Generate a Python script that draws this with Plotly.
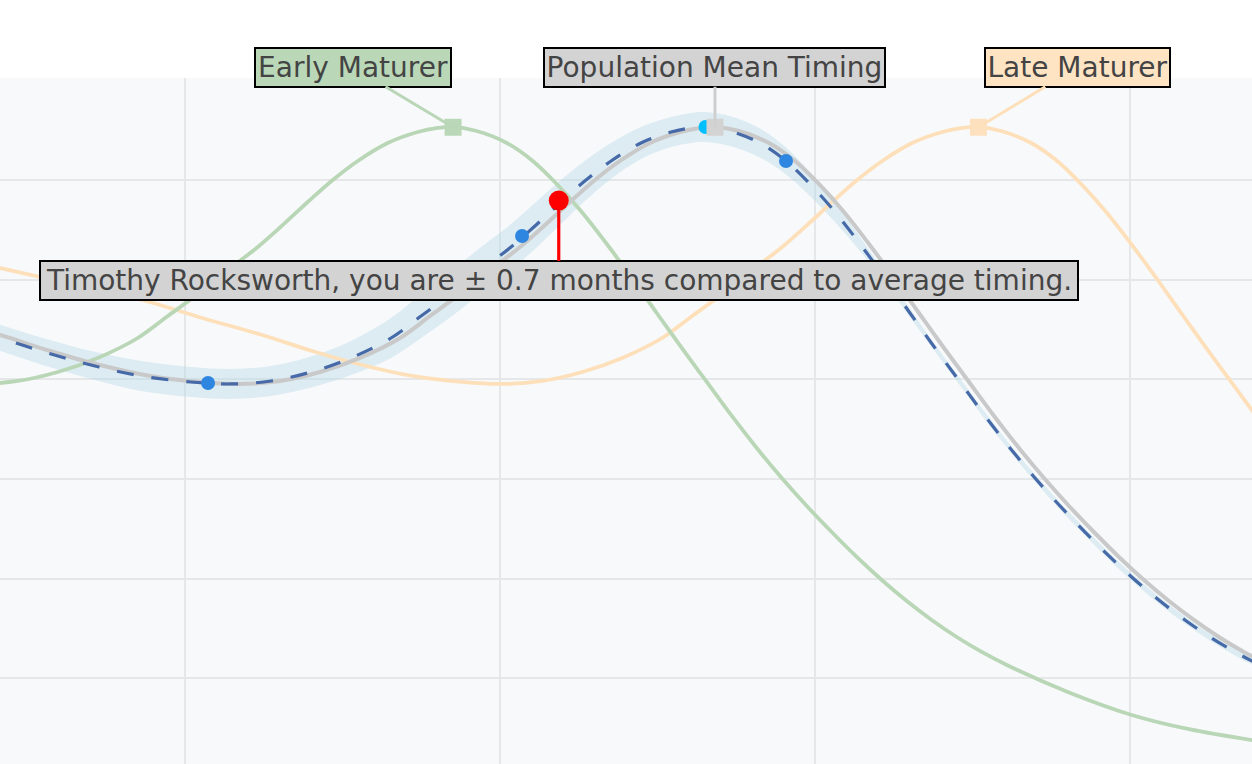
import plotly.graph_objects as go

# ---------------- data (age in years, growth velocity) ----------------
velocity = [8.157, 7.977, 7.796, 7.616, 7.445, 7.285, 7.144, 7.034, 6.974, 6.954,
            6.984, 7.074, 7.215, 7.415, 7.636, 7.857, 8.097, 8.328, 8.549, 8.779,
            9.000, 9.191, 9.371, 9.481, 9.522, 9.532, 9.491, 9.371, 9.191, 8.960,
            8.679, 8.358, 8.017, 7.666, 7.315, 6.974, 6.633, 6.312, 6.011, 5.730,
            5.469, 5.219, 4.988, 4.777, 4.587, 4.416, 4.266, 4.135, 3.865, 3.634,
            3.494, 3.373]

mean_age = [7.048, 7.556, 8.063, 8.444, 8.825, 9.143, 9.460, 9.778, 10.095, 10.349,
            10.603, 10.857, 11.111, 11.365, 11.556, 11.746, 11.937, 12.127, 12.286, 12.444,
            12.603, 12.762, 12.952, 13.143, 13.270, 13.359, 13.517, 13.708, 13.873, 14.025,
            14.184, 14.343, 14.502, 14.660, 14.819, 14.978, 15.137, 15.295, 15.454, 15.613,
            15.771, 15.930, 16.089, 16.248, 16.406, 16.565, 16.724, 16.883, 17.270, 17.676,
            18.032, 18.476]

individual_age = [6.991, 7.499, 8.006, 8.387, 8.768, 9.086, 9.403, 9.721, 10.038, 10.292,
                  10.546, 10.800, 11.054, 11.308, 11.499, 11.689, 11.880, 12.070, 12.229, 12.387,
                  12.546, 12.705, 12.895, 13.086, 13.213, 13.302, 13.460, 13.651, 13.816, 13.968,
                  14.127, 14.286, 14.445, 14.603, 14.762, 14.921, 15.080, 15.238, 15.397, 15.556,
                  15.714, 15.873, 16.032, 16.191, 16.349, 16.508, 16.667, 16.826, 17.213, 17.619,
                  17.975, 18.419]

early_age = [5.383, 5.891, 6.398, 6.779, 7.160, 7.478, 7.795, 8.113, 8.430, 8.684,
             8.938, 9.192, 9.446, 9.700, 9.891, 10.081, 10.272, 10.462, 10.621, 10.779,
             10.938, 11.097, 11.287, 11.478, 11.605, 11.694, 11.852, 12.043, 12.208, 12.360,
             12.519, 12.678, 12.837, 12.995, 13.154, 13.313, 13.472, 13.630, 13.789, 13.948,
             14.106, 14.265, 14.424, 14.583, 14.741, 14.900, 15.059, 15.218, 15.605, 16.011,
             16.367, 16.811]

late_age = [8.713, 9.221, 9.728, 10.109, 10.490, 10.808, 11.125, 11.443, 11.760, 12.014,
            12.268, 12.522, 12.776, 13.030, 13.221, 13.411, 13.602, 13.792, 13.951, 14.109,
            14.268, 14.427, 14.617, 14.808, 14.935, 15.024, 15.182, 15.373, 15.538, 15.690,
            15.849, 16.008, 16.167, 16.325, 16.484, 16.643, 16.802, 16.960, 17.119, 17.278,
            17.436, 17.595, 17.754, 17.913, 18.071, 18.230, 18.389, 18.548, 18.935, 19.341,
            19.697, 20.141]

band_halfwidth = [0.13, 0.13, 0.13, 0.13, 0.13, 0.135, 0.14, 0.15, 0.15, 0.15,
                  0.15, 0.155, 0.17, 0.20, 0.22, 0.23, 0.23, 0.23, 0.23, 0.22,
                  0.20, 0.18, 0.16, 0.15, 0.15, 0.15, 0.15, 0.145, 0.135, 0.12,
                  0.10, 0.07, 0.05, 0.04, 0.035, 0.035, 0.035, 0.035, 0.035, 0.035,
                  0.035, 0.035, 0.035, 0.035, 0.035, 0.035, 0.035, 0.035, 0.035, 0.035,
                  0.035, 0.035]

checkpoint_age = [10.146, 12.140, 13.816]
checkpoint_vel = [6.964, 8.438, 9.190]

individual_peak_age = [13.305]
individual_peak_vel = [9.532]

current_age = [12.373]
current_vel = [8.793]

peak_labels = ["Early Maturer", "Population Mean Timing", "Late Maturer"]
peak_age = [11.702, 13.365, 15.038]
peak_vel = [9.529, 9.529, 9.529]

person_name = "Timothy Rocksworth"
timing_diff_months = 0.7

y_grid_values = [4, 5, 6, 7, 8, 9]

# ---------------- styling ----------------
GREEN = "#b9d7b6"
GRAY = "#c9c9c9"
ORANGE = "#fde0ba"
label_bg = ["#bad8b8", "#d3d3d3", "#ffe4c4"]
arrow_col = [GREEN, "#cfcfcf", ORANGE]
marker_col = ["#bad8b8", "#d3d3d3", "#fde0be"]
label_box_w = [194, 339, 183]
label_ax = [-100, 0, 99]
FONT = "DejaVu Sans"

band_upper = [v + h for v, h in zip(velocity, band_halfwidth)]
band_lower = [v - h for v, h in zip(velocity, band_halfwidth)]

fig = go.Figure()

# uncertainty band around the individual curve
fig.add_trace(go.Scatter(x=individual_age, y=band_upper, mode="lines",
                         line=dict(width=0, shape="spline", color="rgba(0,0,0,0)"),
                         hoverinfo="skip", showlegend=False))
fig.add_trace(go.Scatter(x=individual_age, y=band_lower, mode="lines",
                         line=dict(width=0, shape="spline", color="rgba(0,0,0,0)"),
                         fill="tonexty", fillcolor="rgba(173,216,230,0.38)",
                         hoverinfo="skip", showlegend=False))

fig.add_trace(go.Scatter(x=late_age, y=velocity, mode="lines",
                         line=dict(color=ORANGE, width=3.8, shape="spline"),
                         name="Late Maturer", showlegend=False))
fig.add_trace(go.Scatter(x=early_age, y=velocity, mode="lines",
                         line=dict(color=GREEN, width=3.8, shape="spline"),
                         name="Early Maturer", showlegend=False))
fig.add_trace(go.Scatter(x=mean_age, y=velocity, mode="lines",
                         line=dict(color=GRAY, width=4, shape="spline"),
                         name="Population Mean", showlegend=False))
fig.add_trace(go.Scatter(x=individual_age, y=velocity, mode="lines",
                         line=dict(color="#4669a8", width=3.2, dash="17px,18px", shape="spline"),
                         name=person_name, showlegend=False))

fig.add_trace(go.Scatter(x=checkpoint_age, y=checkpoint_vel, mode="markers",
                         marker=dict(color="#2e86e0", size=14),
                         showlegend=False))
fig.add_trace(go.Scatter(x=individual_peak_age, y=individual_peak_vel, mode="markers",
                         marker=dict(color="#00bfff", size=14),
                         showlegend=False))
fig.add_trace(go.Scatter(x=peak_age, y=peak_vel, mode="markers",
                         marker=dict(color=marker_col, size=17, symbol="square"),
                         showlegend=False))
fig.add_trace(go.Scatter(x=current_age, y=current_vel, mode="markers",
                         marker=dict(color="red", size=20),
                         showlegend=False))

for lab, xa, ya, bg, ac, axo, bw in zip(peak_labels, peak_age, peak_vel, label_bg,
                                        arrow_col, label_ax, label_box_w):
    fig.add_annotation(x=xa, y=ya, text=lab, showarrow=True, ax=axo, ay=-60,
                       arrowhead=0, arrowwidth=3, arrowcolor=ac,
                       width=bw, height=37,
                       font=dict(family=FONT, size=28, color="#444444"),
                       bgcolor=bg, bordercolor="black", borderwidth=2, borderpad=0)

fig.add_annotation(x=current_age[0], y=current_vel[0],
                   text=f"{person_name}, you are \u00b1 {timing_diff_months} months compared to average timing.",
                   showarrow=True, ax=0, ay=80, arrowhead=0, arrowwidth=3.2, arrowcolor="red",
                   width=1036, height=37,
                   font=dict(family=FONT, size=28, color="#444444"),
                   bgcolor="#d3d3d3", bordercolor="black", borderwidth=2, borderpad=0)

fig.update_layout(
    width=1252, height=764,
    margin=dict(l=0, r=0, t=78, b=0, autoexpand=False),
    paper_bgcolor="white", plot_bgcolor="#f8f9fb",
    showlegend=False,
    font=dict(family=FONT, color="#444444"),
    xaxis=dict(range=[8.825, 16.775], dtick=2, tick0=0, showticklabels=False,
               showgrid=True, gridcolor="#e6e7e9", gridwidth=2, zeroline=False, showline=False),
    yaxis=dict(range=[3.142, 10.023], tickmode="array", tickvals=y_grid_values,
               showticklabels=False, showgrid=True, gridcolor="#e6e7e9", gridwidth=2,
               zeroline=False, showline=False),
)

fig.write_html("out.html", config={"displayModeBar": False},
               post_script="document.body.style.margin='0';")
